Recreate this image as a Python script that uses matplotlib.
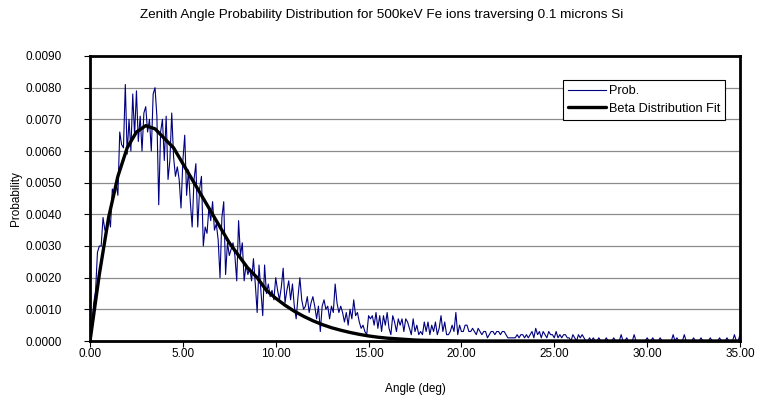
import matplotlib
matplotlib.use("Agg")
import matplotlib.pyplot as plt
import numpy as np
from matplotlib.ticker import FormatStrFormatter

plt.rcParams.update({
    "font.family": ["Liberation Sans", "DejaVu Sans"],
    "font.size": 8.5,
})

angle_step = 0.1
prob = [
    0.0000, 0.0005, 0.0012, 0.0016, 0.0028, 0.0030, 0.0030, 0.0039, 0.0035, 0.0035,
    0.0040, 0.0036, 0.0048, 0.0046, 0.0050, 0.0046, 0.0066, 0.0062, 0.0061, 0.0081,
    0.0059, 0.0070, 0.0060, 0.0078, 0.0065, 0.0079, 0.0063, 0.0071, 0.0060, 0.0072,
    0.0074, 0.0066, 0.0070, 0.0060, 0.0078, 0.0080, 0.0071, 0.0043, 0.0066, 0.0070,
    0.0057, 0.0071, 0.0051, 0.0057, 0.0072, 0.0058, 0.0052, 0.0055, 0.0051, 0.0042,
    0.0057, 0.0065, 0.0046, 0.0054, 0.0044, 0.0036, 0.0051, 0.0056, 0.0036, 0.0048,
    0.0052, 0.0030, 0.0036, 0.0034, 0.0042, 0.0038, 0.0044, 0.0035, 0.0037, 0.0032,
    0.0020, 0.0039, 0.0044, 0.0021, 0.0031, 0.0027, 0.0029, 0.0031, 0.0027, 0.0019,
    0.0038, 0.0027, 0.0031, 0.0019, 0.0024, 0.0021, 0.0023, 0.0019, 0.0026, 0.0018,
    0.0009, 0.0024, 0.0016, 0.0008, 0.0024, 0.0015, 0.0018, 0.0014, 0.0016, 0.0013,
    0.0020, 0.0016, 0.0013, 0.0017, 0.0023, 0.0012, 0.0016, 0.0019, 0.0013, 0.0018,
    0.0011, 0.0007, 0.0014, 0.0020, 0.0013, 0.0010, 0.0011, 0.0014, 0.0009, 0.0012,
    0.0014, 0.0011, 0.0007, 0.0011, 0.0003, 0.0011, 0.0013, 0.0010, 0.0011, 0.0007,
    0.0011, 0.0009, 0.0018, 0.0012, 0.0009, 0.0011, 0.0009, 0.0006, 0.0009, 0.0005,
    0.0010, 0.0007, 0.0013, 0.0008, 0.0009, 0.0006, 0.0004, 0.0005, 0.0003, 0.0002,
    0.0008, 0.0007, 0.0008, 0.0005, 0.0009, 0.0004, 0.0008, 0.0003, 0.0008, 0.0005,
    0.0009, 0.0004, 0.0002, 0.0008, 0.0006, 0.0003, 0.0007, 0.0005, 0.0007, 0.0003,
    0.0007, 0.0006, 0.0004, 0.0002, 0.0007, 0.0003, 0.0005, 0.0002, 0.0003, 0.0002,
    0.0006, 0.0003, 0.0006, 0.0002, 0.0005, 0.0003, 0.0006, 0.0002, 0.0004, 0.0008,
    0.0003, 0.0006, 0.0002, 0.0002, 0.0003, 0.0005, 0.0003, 0.0009, 0.0002, 0.0005,
    0.0003, 0.0003, 0.0005, 0.0005, 0.0003, 0.0003, 0.0004, 0.0003, 0.0002, 0.0004,
    0.0003, 0.0002, 0.0003, 0.0003, 0.0001, 0.0002, 0.0003, 0.0003, 0.0002, 0.0003,
    0.0003, 0.0002, 0.0003, 0.0003, 0.0002, 0.0001, 0.0001, 0.0001, 0.0001, 0.0001,
    0.0002, 0.0001, 0.0002, 0.0002, 0.0001, 0.0002, 0.0001, 0.0002, 0.0003, 0.0001,
    0.0004, 0.0002, 0.0003, 0.0001, 0.0003, 0.0002, 0.0001, 0.0003, 0.0002, 0.0002,
    0.0001, 0.0003, 0.0001, 0.0002, 0.0001, 0.0002, 0.0002, 0.0001, 0.0001, 0.0000,
    0.0002, 0.0001, 0.0000, 0.0002, 0.0001, 0.0002, 0.0001, 0.0000, 0.0000, 0.0001,
    0.0000, 0.0001, 0.0000, 0.0000, 0.0001, 0.0000, 0.0000, 0.0000, 0.0001, 0.0000,
    0.0000, 0.0000, 0.0001, 0.0000, 0.0000, 0.0000, 0.0002, 0.0000, 0.0000, 0.0001,
    0.0000, 0.0000, 0.0000, 0.0002, 0.0000, 0.0000, 0.0000, 0.0000, 0.0000, 0.0000,
    0.0001, 0.0000, 0.0000, 0.0001, 0.0000, 0.0000, 0.0000, 0.0001, 0.0000, 0.0000,
    0.0000, 0.0000, 0.0000, 0.0000, 0.0002, 0.0000, 0.0001, 0.0000, 0.0000, 0.0000,
    0.0002, 0.0000, 0.0000, 0.0000, 0.0000, 0.0001, 0.0000, 0.0000, 0.0000, 0.0001,
    0.0000, 0.0000, 0.0000, 0.0000, 0.0001, 0.0000, 0.0000, 0.0000, 0.0000, 0.0001,
    0.0000, 0.0000, 0.0000, 0.0001, 0.0000, 0.0000, 0.0000, 0.0002, 0.0000, 0.0000,
    0.0002,
]

# Beta distribution fit, read every 0.5 deg from 0.0 to 35.0
fit_step = 0.5
beta_fit = [
    0.0, 0.0021, 0.0039, 0.0052, 0.0061, 0.0066, 0.0068, 0.0067, 0.0064, 0.0061,
    0.0056, 0.0051, 0.0046, 0.0041, 0.0036, 0.0031, 0.0027, 0.0023, 0.0020, 0.0016,
    0.00135, 0.00113, 0.00094, 0.00078, 0.00064, 0.00052, 0.00042, 0.00034, 0.00027, 0.00021,
    0.00016, 0.00012, 0.00009, 0.00007, 0.00005, 0.00003, 0.00002, 0.000015, 0.00001, 0.000005,
] + [0.0] * 31

x_ticks = [0, 5, 10, 15, 20, 25, 30, 35]
y_ticks = [0.0, 0.001, 0.002, 0.003, 0.004, 0.005, 0.006, 0.007, 0.008, 0.009]

angle = np.arange(len(prob)) * angle_step
fit_angle = np.arange(len(beta_fit)) * fit_step

fig = plt.figure(figsize=(7.61, 4.0), dpi=100)
ax = fig.add_axes([0.1183, 0.1475, 0.8541, 0.7125])

for y in y_ticks[1:-1]:
    ax.axhline(y, color="#8c8c8c", linewidth=0.9, zorder=1)

ax.plot(angle, prob, color="#000080", linewidth=0.8, label="Prob.", zorder=2)
ax.plot(fit_angle, beta_fit, color="black", linewidth=2.4,
        label="Beta Distribution Fit", zorder=3, solid_capstyle="round")

ax.set_xlim(0, 35)
ax.set_ylim(0, 0.009)
ax.set_xticks(x_ticks)
ax.set_yticks(y_ticks)
ax.xaxis.set_major_formatter(FormatStrFormatter("%.2f"))
ax.yaxis.set_major_formatter(FormatStrFormatter("%.4f"))
ax.tick_params(direction="out", length=4, width=0.8, labelsize=8.5)
ax.tick_params(axis="y", pad=16)
ax.tick_params(axis="x", pad=1)
for s in ax.spines.values():
    s.set_linewidth(2.0)
    s.set_color("black")

ax.set_xlabel("Angle (deg)", fontsize=8.5, labelpad=16.5)
ax.set_ylabel("Probability", fontsize=8.5, labelpad=3)
fig.text(0.501, 0.962, "Zenith Angle Probability Distribution for 500keV Fe ions "
         "traversing 0.1 microns Si", ha="center", va="center", fontsize=9.7)

leg = ax.legend(loc="upper left", bbox_to_anchor=(563 / 761, 1 - 80 / 400),
                bbox_transform=fig.transFigure, fancybox=False, framealpha=1,
                edgecolor="black", handlelength=3.0, handletextpad=0.2,
                borderpad=0.4, labelspacing=0.45, borderaxespad=0,
                fontsize=9.2)
leg.get_frame().set_linewidth(0.8)

fig.savefig("out.png", dpi=100)
